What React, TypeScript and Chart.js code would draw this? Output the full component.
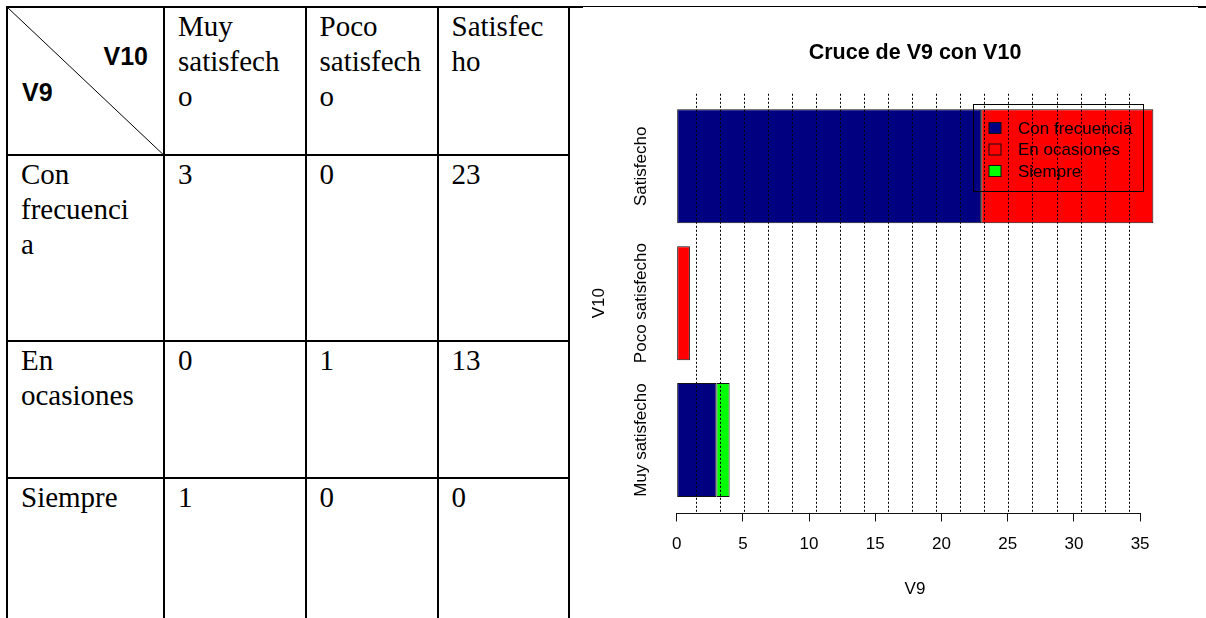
import React, { useEffect, useRef } from "react";
import { Chart, registerables } from "chart.js";

Chart.register(...registerables);

// ---- data ----
const v10Categories = ["Muy satisfecho", "Poco satisfecho", "Satisfecho"];
const v9Categories = ["Con frecuencia", "En ocasiones", "Siempre"];
const conFrecuencia = [3, 0, 23];
const enOcasiones = [0, 1, 13];
const siempre = [1, 0, 0];
const seriesColors = ["#000080", "#ff0000", "#00ff00"];
const xTickValues = [0, 5, 10, 15, 20, 25, 30, 35];
const gridValues = [
  1.44, 3.25, 5.07, 6.88, 8.7, 10.51, 12.33, 14.15, 15.97, 17.78, 19.6, 21.41,
  23.23, 25.04, 26.87, 28.7, 30.54, 32.37, 34.14,
];
const chartTitle = "Cruce de V9 con V10";
const xTitle = "V9";
const yTitle = "V10";
// table text, as wrapped in the document
const headerLines = [
  ["Muy", "satisfech", "o"],
  ["Poco", "satisfech", "o"],
  ["Satisfec", "ho"],
];
const rowLines = [["Con", "frecuenci", "a"], ["En", "ocasiones"], ["Siempre"]];
const tableSeries = [conFrecuencia, enOcasiones, siempre];

// ---- layout (pixels) ----
const COLS = [7, 164, 305.5, 437.5, 569];
const ROWS = [7, 155.3, 340.7, 477.8];
const CANVAS_LEFT = 570;
const CW = 636;
const CH = 618;

const rPlot = {
  id: "rPlot",
  afterDatasetsDraw(chart: any) {
    const { ctx, chartArea } = chart;
    const xs = chart.scales.x;
    ctx.save();
    ctx.strokeStyle = "#000";
    ctx.lineWidth = 1;
    ctx.setLineDash([2, 2]);
    for (const v of gridValues) {
      const px = Math.round(xs.getPixelForValue(v)) + 0.5;
      ctx.beginPath();
      ctx.moveTo(px, chartArea.top);
      ctx.lineTo(px, chartArea.bottom);
      ctx.stroke();
    }
    ctx.restore();
  },
  afterDraw(chart: any) {
    const { ctx, chartArea } = chart;
    const xs = chart.scales.x;
    const ys = chart.scales.y;
    ctx.save();
    // x axis line
    ctx.strokeStyle = "#111";
    ctx.lineWidth = 1;
    const ay = Math.round(chartArea.bottom) + 0.5;
    ctx.beginPath();
    ctx.moveTo(xs.getPixelForValue(xTickValues[0]), ay);
    ctx.lineTo(xs.getPixelForValue(xTickValues[xTickValues.length - 1]), ay);
    ctx.stroke();

    const cx = (chartArea.left + chartArea.right) / 2;
    const cy = (chartArea.top + chartArea.bottom) / 2;
    // title
    ctx.fillStyle = "#000";
    ctx.font = 'bold 21.5px "Liberation Sans"';
    ctx.textAlign = "center";
    ctx.textBaseline = "alphabetic";
    ctx.fillText(chartTitle, cx, 59.3);
    // x title
    ctx.font = '17px "Liberation Sans"';
    ctx.fillText(xTitle, cx, 594);
    // y title
    ctx.save();
    ctx.translate(34, cy);
    ctx.rotate(-Math.PI / 2);
    ctx.fillText(yTitle, 0, 0);
    ctx.restore();
    // category labels
    v10Categories.forEach((c, i) => {
      const py = ys.getPixelForValue(i);
      ctx.save();
      ctx.translate(75.5, py);
      ctx.rotate(-Math.PI / 2);
      ctx.fillText(c, 0, 0);
      ctx.restore();
    });

    // legend (transparent, R style)
    const lx = 973.5 - CANVAS_LEFT;
    const ly = 104.5;
    ctx.strokeStyle = "#000";
    ctx.lineWidth = 1;
    ctx.strokeRect(lx, ly, 170, 87);
    ctx.textAlign = "left";
    ctx.textBaseline = "middle";
    ctx.font = '17px "Liberation Sans"';
    chart.data.datasets.forEach((ds: any, i: number) => {
      const rowY = 129 + i * 21.5;
      ctx.fillStyle = ds.backgroundColor;
      ctx.fillRect(lx + 15.5, rowY - 6.5, 12, 11);
      ctx.strokeStyle = "#111";
      ctx.strokeRect(lx + 15.5, rowY - 6.5, 12, 11);
      ctx.fillStyle = "#000";
      ctx.fillText(ds.label, lx + 44.5, rowY);
    });
    ctx.restore();
  },
};

function BarChart() {
  const ref = useRef<HTMLCanvasElement | null>(null);
  useEffect(() => {
    if (!ref.current) return;
    const series = [conFrecuencia, enOcasiones, siempre];
    const chart = new Chart(ref.current, {
      type: "bar",
      data: {
        datasets: series.map((vals, s) => ({
          label: v9Categories[s],
          data: vals.map((v, i) => ({ x: v, y: i })),
          backgroundColor: seriesColors[s],
          borderColor: "#111",
          borderWidth: 1,
          borderSkipped: false,
          categoryPercentage: 1,
          barPercentage: 1 / 1.2,
        })),
      },
      options: {
        indexAxis: "y",
        animation: false,
        responsive: false,
        devicePixelRatio: 1,
        layout: { padding: { left: 87.6, right: 33.6, top: 93.8, bottom: 0 } },
        plugins: {
          legend: { display: false },
          title: { display: false },
          tooltip: { enabled: false },
        },
        scales: {
          x: {
            type: "linear",
            stacked: true,
            min: -1.44,
            max: 37.44,
            afterBuildTicks: (s: any) => {
              s.ticks = xTickValues.map((v) => ({ value: v }));
            },
            afterFit: (s: any) => {
              s.height = CH - 512.5;
            },
            grid: {
              drawOnChartArea: false,
              drawTicks: true,
              tickLength: 9,
              color: "#111",
              lineWidth: 1,
            },
            border: { display: false },
            ticks: {
              padding: 13,
              autoSkip: false,
              maxRotation: 0,
              color: "#000",
              font: { family: "Liberation Sans", size: 17 },
            },
          },
          y: {
            type: "linear",
            stacked: true,
            offset: false,
            bounds: "data",
            grace: 0,
            min: -0.53,
            max: 2.53,
            display: true,
            grid: { display: false, drawTicks: false },
            border: { display: false },
            ticks: { display: false },
            afterFit: (s: any) => {
              s.width = 0;
            },
            afterBuildTicks: (s: any) => {
              s.ticks = v10Categories.map((_, i) => ({ value: i }));
            },
          },
        },
      } as any,
      plugins: [rPlot],
    });
    return () => chart.destroy();
  }, []);
  return (
    <canvas
      ref={ref}
      width={CW}
      height={CH}
      style={{ position: "absolute", left: CANVAS_LEFT, top: 0, width: CW, height: CH }}
    />
  );
}

const serif: React.CSSProperties = {
  position: "absolute",
  fontFamily: '"Liberation Serif", "Times New Roman", serif',
  fontSize: 29,
  lineHeight: "35px",
  whiteSpace: "nowrap",
  color: "#000",
};

function Table() {
  const els: React.ReactNode[] = [];
  COLS.forEach((x, i) => {
    els.push(
      <div key={"v" + i} style={{ position: "absolute", left: x - 1, top: 6, width: 2, height: CH - 6, background: "#000" }} />
    );
  });
  ROWS.forEach((y, i) => {
    const right = i === 0 ? 583 : 570;
    els.push(
      <div key={"h" + i} style={{ position: "absolute", left: 6, top: y - 1, width: right - 6, height: 2, background: "#000" }} />
    );
  });
  headerLines.forEach((lines, c) => {
    els.push(
      <div key={"hd" + c} style={{ ...serif, left: COLS[c + 1] + 14, top: ROWS[0] + 1.5 }}>
        {lines.map((l, k) => (
          <div key={k}>{l}</div>
        ))}
      </div>
    );
  });
  rowLines.forEach((lines, r) => {
    els.push(
      <div key={"rl" + r} style={{ ...serif, left: COLS[0] + 14, top: ROWS[r + 1] + 2 }}>
        {lines.map((l, k) => (
          <div key={k}>{l}</div>
        ))}
      </div>
    );
    tableSeries[r].forEach((v, c) => {
      els.push(
        <div key={"val" + r + "_" + c} style={{ ...serif, left: COLS[c + 1] + 14, top: ROWS[r + 1] + 2 }}>
          {String(v)}
        </div>
      );
    });
  });
  return (
    <>
      <svg width={170} height={160} style={{ position: "absolute", left: 0, top: 0 }}>
        <line x1={7} y1={7} x2={164} y2={155.3} stroke="#000" strokeWidth={1} />
      </svg>
      <div
        style={{
          position: "absolute",
          right: 1206 - 148,
          top: 43.8,
          fontFamily: '"Liberation Sans", Arial, sans-serif',
          fontWeight: "bold",
          fontSize: 25,
          lineHeight: "25px",
          whiteSpace: "nowrap",
        }}
      >
        {yTitle}
      </div>
      <div
        style={{
          position: "absolute",
          left: 22,
          top: 79.5,
          fontFamily: '"Liberation Sans", Arial, sans-serif',
          fontWeight: "bold",
          fontSize: 25,
          lineHeight: "25px",
          whiteSpace: "nowrap",
        }}
      >
        {xTitle}
      </div>
      {els}
      <div style={{ position: "absolute", left: 583, top: 6, width: 1198 - 583, height: 1, background: "#000" }} />
      <div style={{ position: "absolute", left: 1198, top: 6, width: 8, height: 2, background: "#000" }} />
    </>
  );
}

export default function App() {
  return (
    <div
      style={{
        position: "absolute",
        left: 0,
        top: 0,
        width: 1206,
        height: 618,
        background: "#fff",
        overflow: "hidden",
      }}
    >
      <Table />
      <BarChart />
    </div>
  );
}
